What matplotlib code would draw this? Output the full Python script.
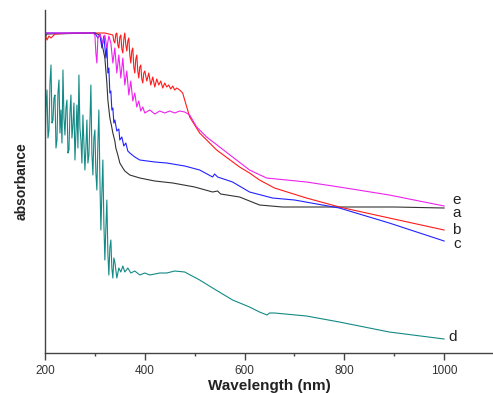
import matplotlib
matplotlib.use("Agg")
import matplotlib.pyplot as plt
from matplotlib.ticker import MultipleLocator

# sample a (black)
a_nm = [200, 204, 300, 310, 316, 320, 324, 326, 330, 333, 336, 340, 342, 346, 350, 356, 360, 370,
        390, 420, 456, 500, 536, 546, 552, 590, 610, 630, 676, 700, 800, 900, 1000]
a_abs = [3.16, 3.19, 3.20, 3.18, 3.05, 2.95, 2.70, 2.53, 2.35, 2.28, 2.20, 2.12, 2.05, 1.98, 1.90, 1.85, 1.82, 1.78,
         1.75, 1.72, 1.70, 1.66, 1.61, 1.62, 1.59, 1.56, 1.52, 1.48, 1.46, 1.46, 1.46, 1.46, 1.45]

# sample b (red)
b_nm = [200, 204, 208, 212, 220, 260, 300, 320, 336, 338, 340, 342, 344, 346, 348, 350, 352, 354, 356, 358,
        360, 362, 364, 366, 368, 370, 372, 374, 376, 378, 380, 382, 384, 386, 388, 390, 392, 394, 396, 398,
        400, 404, 408, 412, 416, 420, 424, 428, 432, 436, 440, 444, 448, 452, 456, 460,
        464, 470, 476, 480, 490, 500, 510, 544, 590, 610, 630, 660, 724, 790, 890, 1000]
b_abs = [3.19, 3.13, 3.17, 3.15, 3.19, 3.20, 3.20, 3.20, 3.18, 3.12, 3.10, 3.19, 3.20, 3.08, 3.05, 3.16, 3.18, 3.04, 3.00, 3.14,
         3.20, 3.08, 3.02, 3.12, 3.15, 2.98, 2.90, 3.02, 3.05, 2.86, 2.80, 2.94, 2.98, 2.82, 2.75, 2.86, 2.88, 2.74, 2.70, 2.80,
         2.82, 2.72, 2.80, 2.68, 2.76, 2.66, 2.74, 2.68, 2.72, 2.65, 2.70, 2.66, 2.68, 2.64, 2.67, 2.63,
         2.65, 2.63, 2.60, 2.53, 2.36, 2.28, 2.20, 2.03, 1.86, 1.80, 1.73, 1.65, 1.55, 1.46, 1.35, 1.23]

# sample c (blue)
c_nm = [200, 300, 306, 310, 314, 318, 322, 324, 326, 328, 330, 332, 334, 336, 338, 340, 344, 348, 350, 354,
        358, 362, 366, 370, 380, 390, 420, 444, 480, 510, 536, 540, 546, 576, 610, 656, 700, 790, 890, 1000]
c_abs = [3.20, 3.20, 3.15, 3.19, 3.05, 3.17, 2.95, 3.08, 2.80, 2.85, 2.60, 2.62, 2.43, 2.45, 2.30, 2.33, 2.22, 2.24, 2.13, 2.16,
         2.07, 2.10, 2.02, 2.00, 1.96, 1.93, 1.91, 1.90, 1.87, 1.83, 1.76, 1.79, 1.76, 1.71, 1.61, 1.55, 1.53, 1.45, 1.30, 1.12]

# sample d (teal): 2 nm steps up to 340 nm, then coarser
d_nm = list(range(200, 342, 2)) + [
    344, 348, 352, 356, 360, 366, 372, 380, 390, 400, 410, 430, 444, 460, 480, 510, 536, 576, 610, 630,
    645, 650, 660, 724, 790, 890, 1000]
d_abs = [
    2.03, 2.45, 2.63, 2.15, 2.23, 2.70, 2.88, 2.30, 2.33, 2.55,
    2.58, 2.05, 2.13, 2.60, 2.73, 2.20, 2.43, 2.10, 2.83, 2.35,
    2.18, 2.45, 2.53, 2.00, 2.03, 2.40, 2.58, 2.15, 2.28, 2.50,
    1.93, 2.20, 2.48, 2.05, 2.78, 2.25, 2.13, 1.90, 2.38, 2.10,
    1.83, 2.05, 2.33, 1.90, 1.98, 2.30, 2.68, 2.00, 1.78, 2.15,
    2.23, 1.80, 1.63, 2.10, 2.43, 1.75, 1.23, 1.60, 1.93, 1.30,
    0.93, 1.25, 1.53, 1.00, 0.78, 1.05, 1.13, 0.85, 0.75, 0.95,
    0.91,
    0.75, 0.85, 0.81, 0.87, 0.81, 0.85, 0.80, 0.82, 0.78, 0.80, 0.78, 0.80, 0.80, 0.82, 0.81, 0.73, 0.65, 0.53, 0.46, 0.41,
    0.38, 0.40, 0.40, 0.37, 0.31, 0.21, 0.14]

# sample e (magenta)
e_nm = [200, 296, 300, 302, 304, 306, 310, 316, 320, 324, 328, 332, 336, 340, 344, 348, 352, 356, 360, 364,
        368, 372, 376, 380, 384, 388, 392, 396, 400, 410, 420, 430, 440, 450, 460, 470, 480, 490, 504, 524,
        576, 610, 644, 724, 790, 890, 1000]
e_abs = [3.20, 3.20, 3.18, 3.00, 2.90, 3.15, 3.19, 3.10, 3.18, 3.05, 3.17, 3.10, 2.90, 3.05, 2.80, 2.98, 2.75, 2.95, 2.68, 2.82,
         2.58, 2.72, 2.52, 2.60, 2.46, 2.52, 2.42, 2.46, 2.40, 2.43, 2.39, 2.42, 2.40, 2.42, 2.40, 2.42, 2.41, 2.38, 2.26, 2.16,
         1.96, 1.83, 1.75, 1.71, 1.66, 1.58, 1.47]

series = [
    (a_nm, a_abs, "#333333"),
    (b_nm, b_abs, "#ff1a1a"),
    (c_nm, c_abs, "#2222ff"),
    (d_nm, d_abs, "#138a85"),
    (e_nm, e_abs, "#ee22ee"),
]

plt.rcParams["font.family"] = ["Liberation Sans", "DejaVu Sans"]

fig = plt.figure(figsize=(4.93, 3.93), dpi=100)
ax = fig.add_axes([45 / 493, 40 / 393, 448 / 493, 343 / 393])

for nm, val, color in series:
    ax.plot(nm, val, color=color, linewidth=0.8)

label_pos = {"e": (1025, 1.53), "a": (1025, 1.40), "b": (1025, 1.23), "c": (1027, 1.09), "d": (1017, 0.16)}
for name, (x, y) in label_pos.items():
    ax.text(x, y, name, fontsize=11, color="#222222", ha="center", va="center")

ax.set_xlim(200, 1098)
ax.set_ylim(0, 3.43)
ax.xaxis.set_major_locator(MultipleLocator(200))
ax.xaxis.set_minor_locator(MultipleLocator(100))
ax.set_yticks([])
ax.tick_params(axis="x", which="major", direction="out", length=5, width=1, colors="#444444",
               labelsize=8.5, labelcolor="#333333", pad=4)
ax.tick_params(axis="x", which="minor", direction="out", length=2.5, width=1, colors="#444444")
ax.spines["top"].set_visible(False)
ax.spines["right"].set_visible(False)
for side in ("left", "bottom"):
    ax.spines[side].set_color("#444444")
    ax.spines[side].set_linewidth(1.0)

ax.set_xlabel("Wavelength (nm)", fontsize=11, fontweight="bold", color="#222222", labelpad=1)
ax.set_ylabel("absorbance", fontsize=10, fontweight="bold", color="#222222", labelpad=12)

fig.savefig("out.png", dpi=100)
